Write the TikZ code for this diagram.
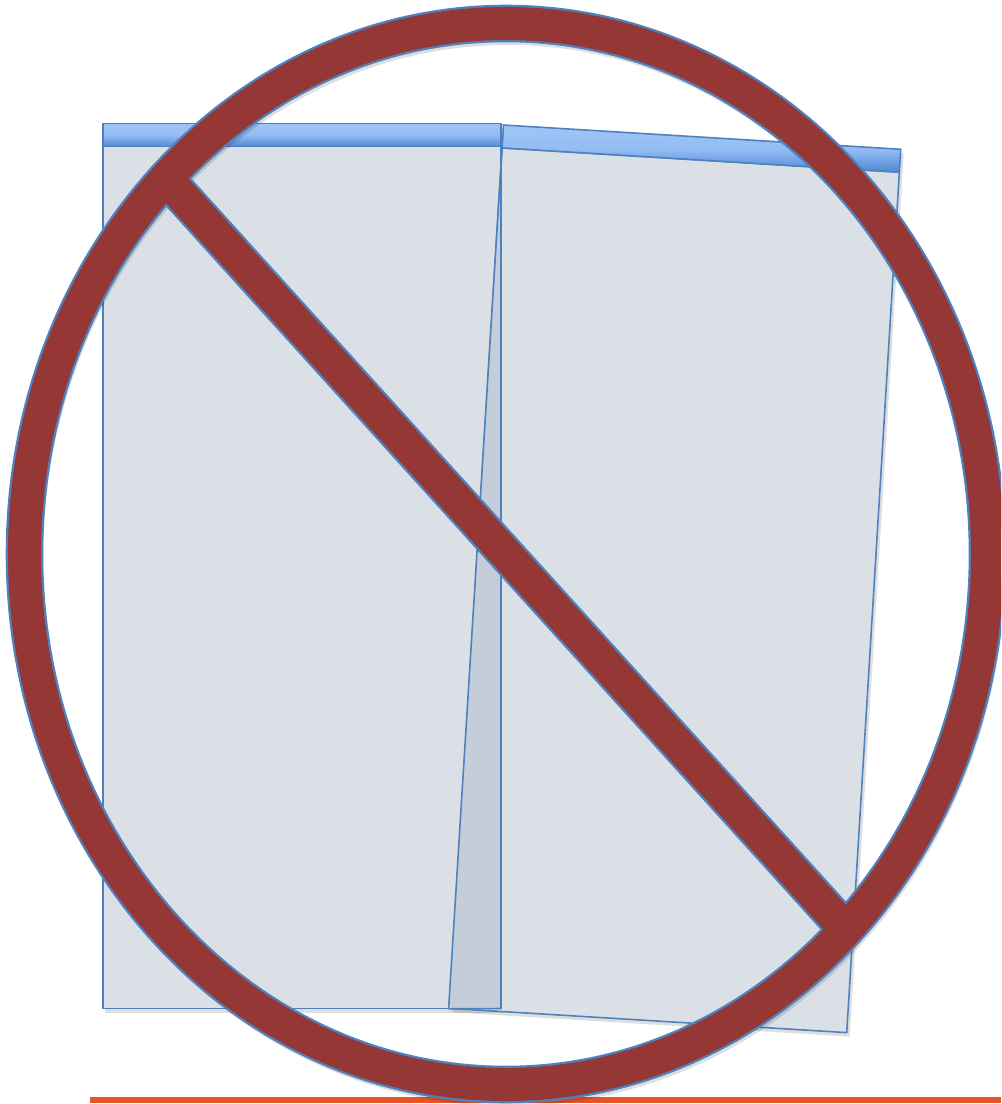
\documentclass[tikz,border=0pt]{standalone}
\definecolor{panelfill}{HTML}{DBE0E7}
\definecolor{overlapfill}{HTML}{C5CDD9}
\definecolor{edgeblue}{HTML}{4F81BD}
\definecolor{barlight}{HTML}{A0C6F8}
\definecolor{bardark}{HTML}{5089D4}
\definecolor{ringred}{HTML}{953735}
\definecolor{lineorange}{HTML}{E8532A}
\tikzset{
  panelbox/.style={fill=panelfill, draw=edgeblue, line width=0.9pt, line join=miter},
  barbox/.style={top color=barlight, bottom color=bardark, middle color=barlight!85!bardark, draw=edgeblue, line width=0.9pt},
  edgeline/.style={draw=edgeblue, line width=0.9pt},
  softshadow/.style={fill=black, opacity=0.13},
  ringstroke/.style={draw=edgeblue, line width=2.6pt},
  ringfill/.style={fill=ringred},
}
\begin{document}
\begin{tikzpicture}[x=0.02cm, y=-0.02cm]
\useasboundingbox (0,0) rectangle (1001,1104);
\clip (0,0) rectangle (1001,1104);
\fill[white] (0,0) rectangle (1001,1104);

% orange base line
\fill[lineorange] (90,1097) rectangle (1001,1103);

% ---- panel shadows
\fill[softshadow] (105,127) rectangle (504,1013);
\begin{scope}[shift={(506.5,129)}, rotate=-3.5]
  \fill[softshadow] (0,0) rectangle (398,885);
\end{scope}

% ---- left panel
\path[panelbox] (103,146.5) rectangle (501,1008.5);
\shade[barbox] (103,123.3) rectangle (501,146.5);

% ---- right panel (tilted)
\begin{scope}[shift={(503.5,125)}, rotate=-3.5]
  \path[panelbox] (0,23) rectangle (398,885);
  \shade[barbox] (0,0) rectangle (398,23);
\end{scope}

% overlap strip of the two panels
\fill[overlapfill] (501,166) -- (501,1008.5) -- (448.6,1008.5) -- cycle;
\draw[edgeline] (501,146.5) -- (501,1008.5);
\draw[edgeline] (502.1,148) -- (448.6,1008.8);
\draw[edgeline] (448.6,1008.8) -- (501,1008.5);

% ---- "no" sign: soft shadow
\begin{scope}[shift={(2,5)}]
  \fill[softshadow, even odd rule] (506,554) ellipse [x radius=498, y radius=547]
      (506,554) ellipse [x radius=465, y radius=514];
  \begin{scope}
    \clip (506,554) ellipse [x radius=470, y radius=519];
    \begin{scope}[shift={(506,554)}, rotate=-47.85]
      \fill[softshadow] (-700,-16.5) rectangle (700,16.5);
    \end{scope}
  \end{scope}
\end{scope}

% blue outlines (drawn first, half gets covered by the red fill)
\draw[ringstroke] (506,554) ellipse [x radius=498, y radius=547];
\draw[ringstroke] (506,554) ellipse [x radius=465, y radius=514];
\begin{scope}
  \clip (506,554) ellipse [x radius=480, y radius=530];
  \begin{scope}[shift={(506,554)}, rotate=-47.85]
    \draw[ringstroke] (-700,-16.5) -- (700,-16.5);
    \draw[ringstroke] (-700,16.5) -- (700,16.5);
  \end{scope}
\end{scope}

% red fills
\fill[ringfill, even odd rule] (506,554) ellipse [x radius=498, y radius=547]
    (506,554) ellipse [x radius=465, y radius=514];
\begin{scope}
  \clip (506,554) ellipse [x radius=475, y radius=525];
  \begin{scope}[shift={(506,554)}, rotate=-47.85]
    \fill[ringfill] (-700,-16.5) rectangle (700,16.5);
  \end{scope}
\end{scope}
\end{tikzpicture}
\end{document}
